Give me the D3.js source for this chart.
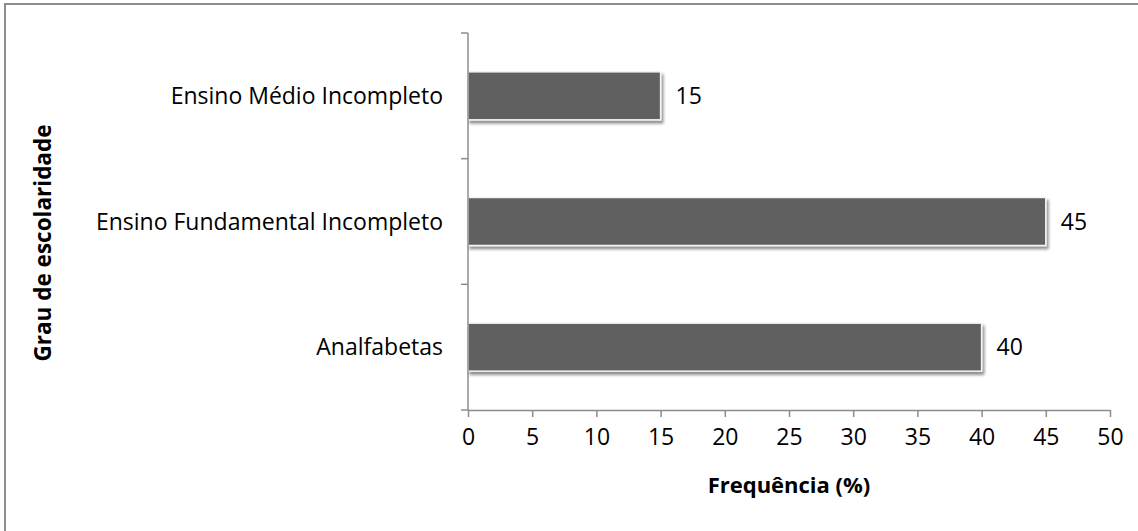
<!DOCTYPE html>
<html><head><meta charset="utf-8">
<script src="https://cdn.jsdelivr.net/npm/d3@7"></script>
<style>
html,body{margin:0;padding:0;background:#fff;}
svg{display:block;}
text{font-family:"Open Sans",sans-serif;fill:#000;}
</style></head>
<body>
<svg id="c" width="1138" height="531"></svg>
<script>
const categories = ["Analfabetas", "Ensino Fundamental Incompleto", "Ensino Médio Incompleto"];
const values = [40, 45, 15];
const xTicks = [0, 5, 10, 15, 20, 25, 30, 35, 40, 45, 50];
const xTitle = "Frequência (%)";
const yTitle = "Grau de escolaridade";

const FS = 23;
const svg = d3.select("#c");
svg.append("rect").attr("x", 5).attr("y", 4).attr("width", 1140).attr("height", 540)
  .attr("fill", "#fff").attr("stroke", "#8c8c8c").attr("stroke-width", 2);

const defs = svg.append("defs");
const f = defs.append("filter").attr("id", "sh").attr("x", "-10%").attr("y", "-20%").attr("width", "130%").attr("height", "160%");
f.append("feGaussianBlur").attr("in", "SourceAlpha").attr("stdDeviation", 1.8).attr("result", "b");
f.append("feOffset").attr("in", "b").attr("dx", 2).attr("dy", 3).attr("result", "o");
f.append("feComponentTransfer").attr("in", "o").attr("result", "o2")
  .append("feFuncA").attr("type", "linear").attr("slope", 0.45);
const m = f.append("feMerge");
m.append("feMergeNode").attr("in", "o2");
m.append("feMergeNode").attr("in", "SourceGraphic");

const L = 468, R = 1110, T = 33, B = 410;
const x = d3.scaleLinear().domain([0, 50]).range([L, R]);
const y = d3.scaleBand().domain(categories).range([B, T]).paddingInner(0.618).paddingOuter(0.309);

// bars
svg.append("g").selectAll("rect").data(categories).join("rect")
  .attr("x", x(0)).attr("y", d => y(d))
  .attr("width", (d, i) => x(values[i]) - x(0)).attr("height", y.bandwidth())
  .attr("fill", "#606060").attr("stroke", "#f4f4f4").attr("stroke-width", 1.5)
  .attr("filter", "url(#sh)");

// value labels
svg.append("g").selectAll("text").data(categories).join("text")
  .attr("x", (d, i) => x(values[i]) + 15).attr("y", d => y(d) + y.bandwidth() / 2)
  .attr("dy", "0.36em").attr("font-size", FS).text((d, i) => values[i]);

// x axis
const xa = svg.append("g").attr("transform", `translate(0,${B})`)
  .call(d3.axisBottom(x).tickValues(xTicks).tickSize(7).tickPadding(12).tickSizeOuter(0));
xa.select(".domain").attr("stroke", "#8c8c8c").attr("stroke-width", 1.5);
xa.selectAll(".tick line").attr("stroke", "#8c8c8c").attr("stroke-width", 1.5);
xa.selectAll("text").attr("font-size", FS).attr("font-family", "'Open Sans', sans-serif");

// y axis: boundaries ticks
const ya = svg.append("g").attr("transform", `translate(${L},0)`);
ya.append("line").attr("x1", 0).attr("x2", 0).attr("y1", T).attr("y2", B)
  .attr("stroke", "#8c8c8c").attr("stroke-width", 1.5);
const bounds = d3.range(categories.length + 1).map(i => B - i * (B - T) / categories.length);
ya.selectAll("line.t").data(bounds).join("line").attr("class", "t")
  .attr("x1", -7).attr("x2", 0).attr("y1", d => d).attr("y2", d => d)
  .attr("stroke", "#8c8c8c").attr("stroke-width", 1.5);
ya.selectAll("text").data(categories).join("text")
  .attr("x", -25).attr("y", d => y(d) + y.bandwidth() / 2).attr("dy", "0.36em")
  .attr("text-anchor", "end").attr("font-size", FS).text(d => d);

// titles
svg.append("text").attr("x", 789).attr("y", 493).attr("text-anchor", "middle")
  .attr("font-size", 22).attr("font-weight", "bold").text(xTitle);
svg.append("text").attr("transform", `translate(51,243) rotate(-90)`)
  .attr("text-anchor", "middle").attr("font-size", 22.5).attr("font-weight", "bold").text(yTitle);
</script>
</body></html>
